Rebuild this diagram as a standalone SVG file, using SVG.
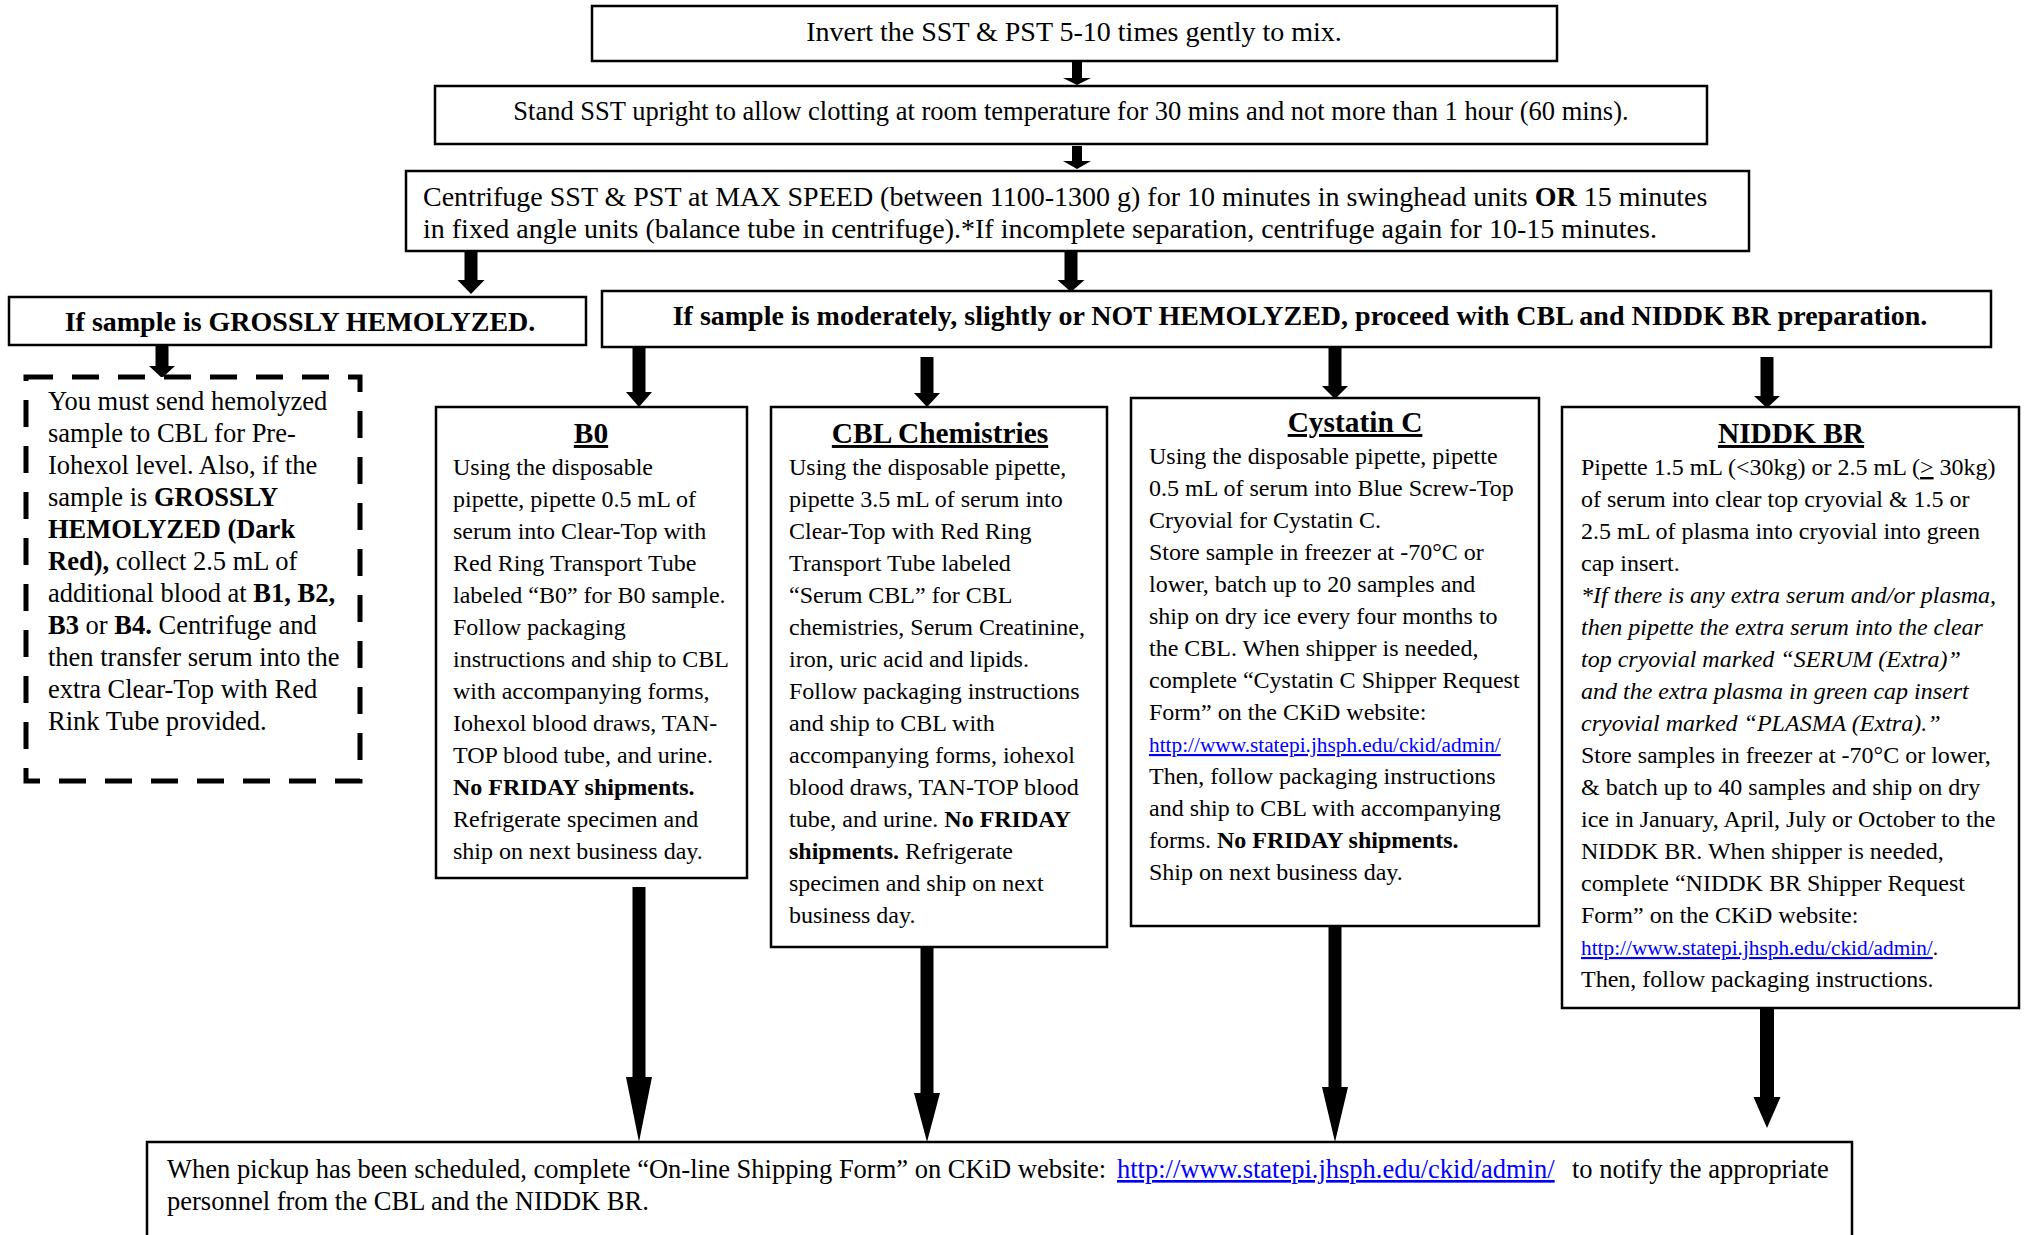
<svg xmlns="http://www.w3.org/2000/svg" width="2028" height="1235" viewBox="0 0 2028 1235">
<style>
.box{fill:#fff;stroke:#000;stroke-width:2.5}
.dash{fill:#fff;stroke:#000;stroke-width:5;stroke-dasharray:27 19}
text{font-family:"Liberation Serif","Times New Roman",serif;fill:#000}
.f28{font-size:28px}
.f265{font-size:26.5px}
.f24{font-size:24px}
.f21{font-size:21.3px}
.ttl{font-size:29.4px;font-weight:bold;text-decoration:underline}
.b{font-weight:bold}
.i{font-style:italic}
.link{fill:#0000ff;text-decoration:underline}
.u{text-decoration:underline}
.arr{fill:#000}
</style>
<rect width="2028" height="1235" fill="#fff"/>

<g id="connectors">
<polygon class="arr" points="1072,62 1082,62 1082,78 1091,78 1077,85 1063,78 1072,78"/>
<polygon class="arr" points="1072,146 1082,146 1082,161 1091,161 1077,169 1063,161 1072,161"/>
<polygon class="arr" points="464.5,249 477.5,249 477.5,280 484.5,280 471,294 457.5,280 464.5,280"/>
<polygon class="arr" points="1064.5,243 1077.5,243 1077.5,280 1084.5,280 1071,292 1057.5,280 1064.5,280"/>
<polygon class="arr" points="155.5,346 168.5,346 168.5,366 175,366 162,378 149,366 155.5,366"/>
<polygon class="arr" points="632.5,347 645.5,347 645.5,392 652,392 639,407 626,392 632.5,392"/>
<polygon class="arr" points="920.5,357 933.5,357 933.5,393 940,393 927,407 914,393 920.5,393"/>
<polygon class="arr" points="1328.5,346 1341.5,346 1341.5,386 1348,386 1335,399 1322,386 1328.5,386"/>
<polygon class="arr" points="1760.5,357 1773.5,357 1773.5,396 1780,396 1767,408 1754,396 1760.5,396"/>
<polygon class="arr" points="632.5,887 645.5,887 645.5,1077 652,1077 639,1142 626,1077 632.5,1077"/>
<polygon class="arr" points="920.5,947 933.5,947 933.5,1093 940,1093 927,1142 914,1093 920.5,1093"/>
<polygon class="arr" points="1328.5,926 1341.5,926 1341.5,1087 1348,1087 1335,1142 1322,1087 1328.5,1087"/>
<polygon class="arr" points="1760,1008 1774,1008 1774,1097 1780.5,1097 1767,1128 1753.5,1097 1760,1097"/>
</g>

<g id="invert">
<rect class="box" x="592" y="6" width="965" height="55"/>
<text class="f28" x="1074" y="41" text-anchor="middle">Invert the SST &amp; PST 5-10 times gently to mix.</text>
</g>

<g id="stand">
<rect class="box" x="435" y="86" width="1272" height="58"/>
<text class="f265" x="1071" y="120" text-anchor="middle">Stand SST upright to allow clotting at room temperature for 30 mins and not more than 1 hour (60 mins).</text>
</g>

<g id="centrifuge">
<rect class="box" x="406" y="171" width="1343" height="80"/>
<text class="f28" x="423" y="206">Centrifuge SST &amp; PST at MAX SPEED (between 1100-1300 g) for 10 minutes in swinghead units <tspan class="b">OR</tspan> 15 minutes</text>
<text class="f28" x="423" y="238">in fixed angle units (balance tube in centrifuge).*If incomplete separation, centrifuge again for 10-15 minutes.</text>
</g>

<g id="grossly">
<rect class="box" x="9" y="297" width="577" height="48"/>
<text class="f28 b" x="300" y="331" text-anchor="middle">If sample is GROSSLY HEMOLYZED.</text>
</g>

<g id="moderate">
<rect class="box" x="602" y="291" width="1389" height="56"/>
<text class="f28 b" x="1300" y="325" text-anchor="middle">If sample is moderately, slightly or NOT HEMOLYZED, proceed with CBL and NIDDK BR preparation.</text>
</g>

<g id="hemolyzed-note">
<rect class="dash" x="26" y="377" width="334" height="404"/>
<text class="f265" x="48" y="410">You must send hemolyzed</text>
<text class="f265" x="48" y="442">sample to CBL for Pre-</text>
<text class="f265" x="48" y="474">Iohexol level. Also, if the</text>
<text class="f265" x="48" y="506">sample is <tspan class="b">GROSSLY</tspan></text>
<text class="f265 b" x="48" y="538">HEMOLYZED (Dark</text>
<text class="f265" x="48" y="570"><tspan class="b">Red),</tspan> collect 2.5 mL of</text>
<text class="f265" x="48" y="602">additional blood at <tspan class="b">B1, B2,</tspan></text>
<text class="f265" x="48" y="634"><tspan class="b">B3</tspan> or <tspan class="b">B4.</tspan> Centrifuge and</text>
<text class="f265" x="48" y="666">then transfer serum into the</text>
<text class="f265" x="48" y="698">extra Clear-Top with Red</text>
<text class="f265" x="48" y="730">Rink Tube provided.</text>
</g>

<g id="b0">
<rect class="box" x="436" y="407" width="311" height="471"/>
<text class="ttl" x="591" y="443" text-anchor="middle">B0</text>
<text class="f24" x="453" y="475">Using the disposable</text>
<text class="f24" x="453" y="507">pipette, pipette 0.5 mL of</text>
<text class="f24" x="453" y="539">serum into Clear-Top with</text>
<text class="f24" x="453" y="571">Red Ring Transport Tube</text>
<text class="f24" x="453" y="603">labeled “B0” for B0 sample.</text>
<text class="f24" x="453" y="635">Follow packaging</text>
<text class="f24" x="453" y="667">instructions and ship to CBL</text>
<text class="f24" x="453" y="699">with accompanying forms,</text>
<text class="f24" x="453" y="731">Iohexol blood draws, TAN-</text>
<text class="f24" x="453" y="763">TOP blood tube, and urine.</text>
<text class="f24 b" x="453" y="795">No FRIDAY shipments.</text>
<text class="f24" x="453" y="827">Refrigerate specimen and</text>
<text class="f24" x="453" y="859">ship on next business day.</text>
</g>

<g id="cbl">
<rect class="box" x="771" y="407" width="336" height="540"/>
<text class="ttl" x="940" y="443" text-anchor="middle">CBL Chemistries</text>
<text class="f24" x="789" y="475">Using the disposable pipette,</text>
<text class="f24" x="789" y="507">pipette 3.5 mL of serum into</text>
<text class="f24" x="789" y="539">Clear-Top with Red Ring</text>
<text class="f24" x="789" y="571">Transport Tube labeled</text>
<text class="f24" x="789" y="603">“Serum CBL” for CBL</text>
<text class="f24" x="789" y="635">chemistries, Serum Creatinine,</text>
<text class="f24" x="789" y="667">iron, uric acid and lipids.</text>
<text class="f24" x="789" y="699">Follow packaging instructions</text>
<text class="f24" x="789" y="731">and ship to CBL with</text>
<text class="f24" x="789" y="763">accompanying forms, iohexol</text>
<text class="f24" x="789" y="795">blood draws, TAN-TOP blood</text>
<text class="f24" x="789" y="827">tube, and urine. <tspan class="b">No FRIDAY</tspan></text>
<text class="f24" x="789" y="859"><tspan class="b">shipments.</tspan> Refrigerate</text>
<text class="f24" x="789" y="891">specimen and ship on next</text>
<text class="f24" x="789" y="923">business day.</text>
</g>

<g id="cystatin">
<rect class="box" x="1131" y="398" width="408" height="528"/>
<text class="ttl" x="1355" y="432" text-anchor="middle">Cystatin C</text>
<text class="f24" x="1149" y="464">Using the disposable pipette, pipette</text>
<text class="f24" x="1149" y="496">0.5 mL of serum into Blue Screw-Top</text>
<text class="f24" x="1149" y="528">Cryovial for Cystatin C.</text>
<text class="f24" x="1149" y="560">Store sample in freezer at -70°C or</text>
<text class="f24" x="1149" y="592">lower, batch up to 20 samples and</text>
<text class="f24" x="1149" y="624">ship on dry ice every four months to</text>
<text class="f24" x="1149" y="656">the CBL. When shipper is needed,</text>
<text class="f24" x="1149" y="688">complete “Cystatin C Shipper Request</text>
<text class="f24" x="1149" y="720">Form” on the CKiD website:</text>
<text class="f21 link" x="1149" y="752">http://www.statepi.jhsph.edu/ckid/admin/</text>
<text class="f24" x="1149" y="784">Then, follow packaging instructions</text>
<text class="f24" x="1149" y="816">and ship to CBL with accompanying</text>
<text class="f24" x="1149" y="848">forms. <tspan class="b">No FRIDAY shipments.</tspan></text>
<text class="f24" x="1149" y="880">Ship on next business day.</text>
</g>

<g id="niddk">
<rect class="box" x="1562" y="407" width="457" height="601"/>
<text class="ttl" x="1791" y="443" text-anchor="middle">NIDDK BR</text>
<text class="f24" x="1581" y="475">Pipette 1.5 mL (&lt;30kg) or 2.5 mL (<tspan class="u">&gt;</tspan> 30kg)</text>
<text class="f24" x="1581" y="507">of serum into clear top cryovial &amp; 1.5 or</text>
<text class="f24" x="1581" y="539">2.5 mL of plasma into cryovial into green</text>
<text class="f24" x="1581" y="571">cap insert.</text>
<text class="f24 i" x="1581" y="603">*If there is any extra serum and/or plasma,</text>
<text class="f24 i" x="1581" y="635">then pipette the extra serum into the clear</text>
<text class="f24 i" x="1581" y="667">top cryovial marked “SERUM (Extra)”</text>
<text class="f24 i" x="1581" y="699">and the extra plasma in green cap insert</text>
<text class="f24 i" x="1581" y="731">cryovial marked “PLASMA (Extra).”</text>
<text class="f24" x="1581" y="763">Store samples in freezer at -70°C or lower,</text>
<text class="f24" x="1581" y="795">&amp; batch up to 40 samples and ship on dry</text>
<text class="f24" x="1581" y="827">ice in January, April, July or October to the</text>
<text class="f24" x="1581" y="859">NIDDK BR. When shipper is needed,</text>
<text class="f24" x="1581" y="891">complete “NIDDK BR Shipper Request</text>
<text class="f24" x="1581" y="923">Form” on the CKiD website:</text>
<text class="f21" x="1581" y="955"><tspan class="link">http://www.statepi.jhsph.edu/ckid/admin/</tspan>.</text>
<text class="f24" x="1581" y="987">Then, follow packaging instructions.</text>
</g>

<g id="pickup">
<rect class="box" x="147" y="1142" width="1705" height="110"/>
<text class="f265" x="167" y="1178">When pickup has been scheduled, complete “On-line Shipping Form” on CKiD website: <tspan class="link" x="1117">http://www.statepi.jhsph.edu/ckid/admin/</tspan><tspan x="1572">to notify the appropriate</tspan></text>
<text class="f265" x="167" y="1210">personnel from the CBL and the NIDDK BR.</text>
</g>
</svg>
